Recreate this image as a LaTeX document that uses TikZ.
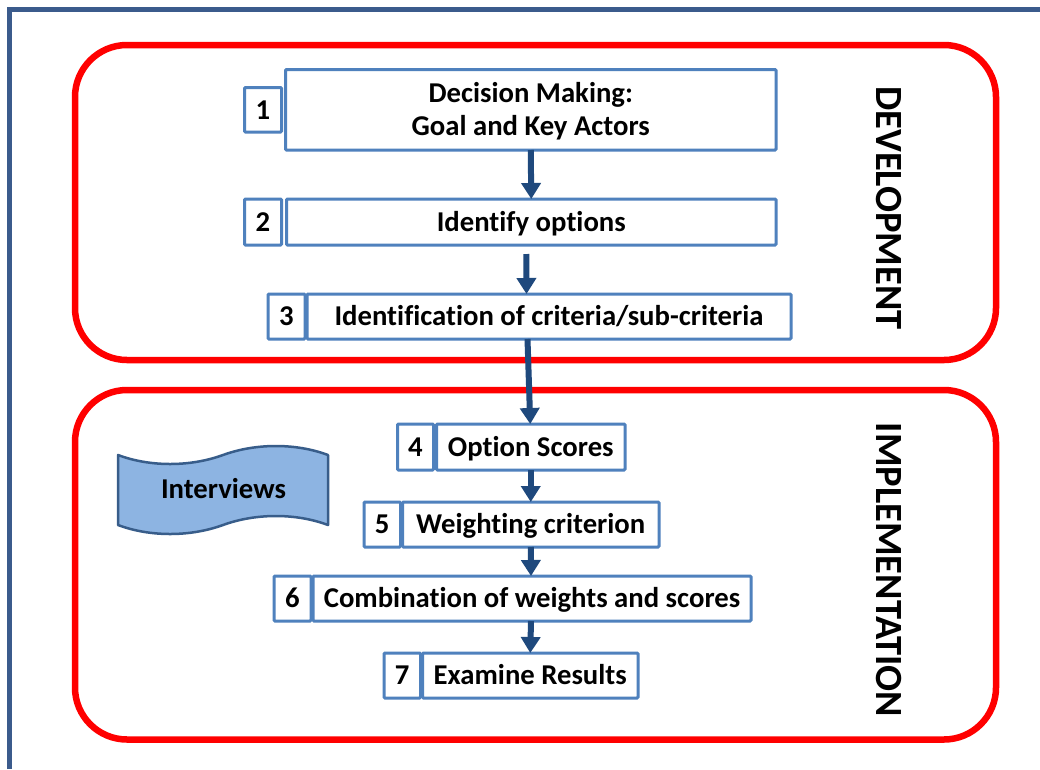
\documentclass[tikz,border=0pt]{standalone}
\usepackage{fontspec}
\setmainfont{Carlito}[Ligatures=NoCommon]
\usetikzlibrary{arrows.meta}
\definecolor{stepblue}{RGB}{79,129,189}
\definecolor{flowblue}{RGB}{31,73,125}
\definecolor{frameblue}{RGB}{59,91,140}
\definecolor{tapefill}{RGB}{141,180,226}
\definecolor{tapeline}{RGB}{56,93,138}

\begin{document}
\begin{tikzpicture}[x=1pt,y=-1pt,
  numbox/.style={draw=stepblue, line width=3pt, fill=white, inner sep=0pt, outer sep=0pt,
    rounded corners=1pt, text height=18.5pt, text depth=0pt,
    font=\fontsize{28.7}{33}\selectfont\bfseries},
  stepbox/.style={numbox, align=center},
  phase/.style={draw=red, line width=6.5pt, rounded corners=52pt, inner sep=0pt, outer sep=0pt},
  phaselabel/.style={rotate=-90, inner sep=0pt, text height=24.8pt, text depth=0pt,
    font=\fontsize{38.5}{40}\selectfont\bfseries},
  flow/.style={draw=flowblue, line width=6pt, -{Triangle[width=19pt,length=16pt]}},
  tape/.style={draw=tapeline, line width=2.5pt, fill=tapefill, line join=round},
]
\useasboundingbox (0,0) rectangle (1040,769);
\fill[white] (0,0) rectangle (1040,769);

% outer frame (only its top and left sides fall inside the page)
\draw[frameblue, line width=4.5pt] (9.5,769) -- (9.5,9.5) -- (1040,9.5);

% the two phases
\node[phase, minimum width=921pt, minimum height=315pt] (dev) at (535.5,202.5) {};
\node[phase, minimum width=921pt, minimum height=349.5pt] (imp) at (535.5,564.75) {};
\node[phaselabel] (devlabel) at (888.5,208) {DEVELOPMENT};
\node[phaselabel] (implabel) at (888.5,570) {IMPLEMENTATION};

% steps: number box + description box
\node[numbox, minimum width=37pt, minimum height=44.5pt] (n1) at (263,109.75) {1};
\node[stepbox, minimum width=490.5pt, minimum height=80.5pt, text height=51.5pt] (s1) at (530.75,109.75)
  {Decision Making:\\Goal and Key Actors};

\node[numbox, minimum width=37pt, minimum height=46pt] (n2) at (263,222) {2};
\node[stepbox, minimum width=489.5pt, minimum height=46pt] (s2) at (531.25,222) {Identify options};

\node[numbox, minimum width=37pt, minimum height=45pt] (n3) at (286.5,316.5) {3};
\node[stepbox, minimum width=484pt, minimum height=45pt] (s3) at (549,316.5)
  {Identification of criteria/sub-criteria};

\node[numbox, minimum width=36pt, minimum height=46pt] (n4) at (415.5,447) {4};
\node[stepbox, minimum width=188.5pt, minimum height=46pt] (s4) at (530.75,447) {Option Scores};

\node[numbox, minimum width=36.5pt, minimum height=45pt] (n5) at (382.25,524.5) {5};
\node[stepbox, minimum width=256.5pt, minimum height=45pt] (s5) at (530.75,524.5) {Weighting criterion};

\node[numbox, minimum width=37pt, minimum height=45pt] (n6) at (292.5,598.5) {6};
\node[stepbox, minimum width=438pt, minimum height=45pt] (s6) at (532,598.5)
  {Combination of weights and scores};

\node[numbox, minimum width=36.5pt, minimum height=45pt] (n7) at (402.25,675.5) {7};
\node[stepbox, minimum width=215.5pt, minimum height=45pt] (s7) at (530.25,675.5) {Examine Results};

% flow between the steps
\draw[flow] (s1.south) -- (s2.north);
\draw[flow, shorten <=9pt] ([xshift=-5pt]s2.south) -- ([xshift=-22.5pt]s3.north);
\draw[flow] ([xshift=-21.5pt]s3.south) -- ([xshift=-0.5pt]s4.north);
\draw[flow] (s4.south) -- (s5.north);
\draw[flow] (s5.south) -- ([xshift=-1pt]s6.north);
\draw[flow] ([xshift=-1pt]s6.south) -- (s7.north);

% punched-tape banner
\draw[tape] (118,455) .. controls (150,467) and (190,467) .. (223,455)
  .. controls (256,443) and (296,443) .. (328,455) -- (328,525)
  .. controls (296,513) and (256,513) .. (223,525)
  .. controls (190,537) and (150,537) .. (118,525) -- cycle;
\node[inner sep=0pt, text height=18.5pt, text depth=0pt,
  font=\fontsize{28.7}{33}\selectfont\bfseries] (iv) at (223.5,489) {Interviews};
\end{tikzpicture}
\end{document}
